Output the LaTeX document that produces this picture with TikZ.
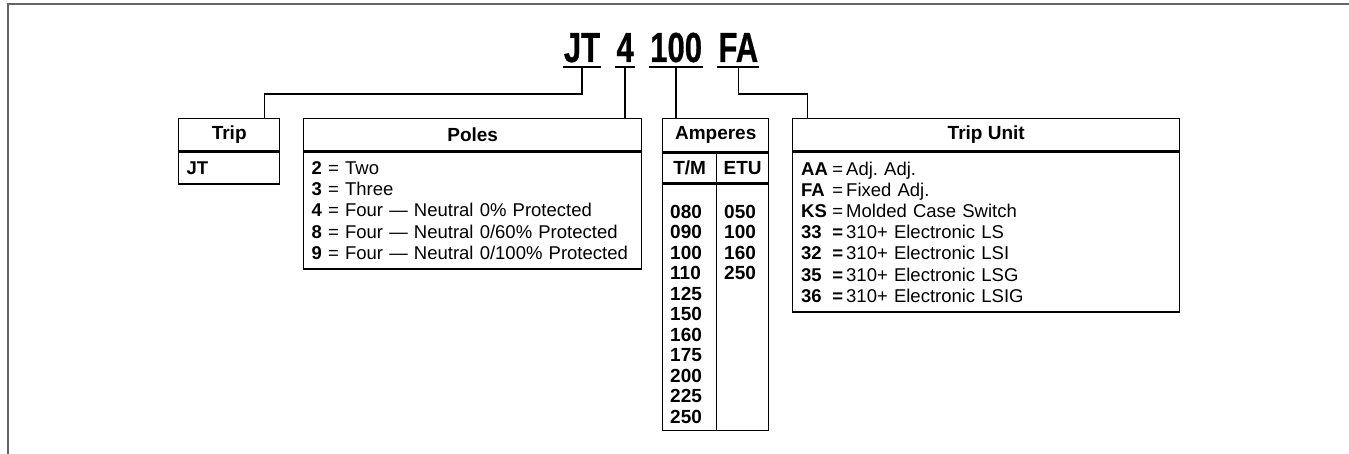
\documentclass[tikz,border=0pt]{standalone}
\usepackage{fontspec}
\setmainfont{Liberation Sans}
\newfontfamily\condfont[FakeStretch=0.74,FakeBold=0.6]{Liberation Sans}
\usetikzlibrary{positioning}
\frenchspacing
\newcommand{\tucode}[3]{\makebox[45pt][l]{\textbf{#1}\hfill#2\hspace{3pt}}#3}
\tikzset{
  code/.style={font=\condfont\bfseries\fontsize{42}{44}\selectfont, inner xsep=1pt, inner ysep=5pt, text depth=0pt},
  uline/.style={line width=2.5pt},
  link/.style={line width=1.4pt},
  hdr/.style={draw, line width=1.4pt, inner sep=0pt, minimum height=32pt, font=\bfseries\fontsize{19}{21}\selectfont},
  body/.style={draw, line width=1.4pt, inner xsep=8pt, inner ysep=0pt, align=left, font=\fontsize{18.5}{21.2}\selectfont},
  col/.style={draw, line width=1.4pt, inner sep=0pt},
  nums/.style={inner sep=0pt, align=left, font=\bfseries\fontsize{19}{20.5}\selectfont}
}
\begin{document}
\begin{tikzpicture}[x=1pt,y=-1pt]
\useasboundingbox (0,0) rectangle (1349,454);
\draw[color=black!60, line width=2.5pt] (1349,4) -- (8,4) -- (8,454);

\node[code, anchor=base] (jt) at (582,62) {JT};
\node[code, base right=14pt of jt] (pol) {4};
\node[code, base right=14pt of pol] (amp) {100};
\node[code, base right=14pt of amp] (fa) {FA};
\foreach \n in {jt,pol,amp,fa}
  \draw[uline] (\n.south west) -- (\n.south east);

\node[hdr, minimum width=101pt, anchor=north west] (trip) at (178,118) {Trip};
\node[body, text width=85pt, minimum height=32pt, below=0pt of trip] (tripb) {\textbf{JT}};

\node[hdr, minimum width=338pt, anchor=north west] (poles) at (303,118) {Poles};
\node[body, text width=322pt, minimum height=117pt, below=0pt of poles] (polesb) {%
  \textbf{2} = Two\\
  \textbf{3} = Three\\
  \textbf{4} = Four — Neutral 0\% Protected\\
  \textbf{8} = Four — Neutral 0/60\% Protected\\
  \textbf{9} = Four — Neutral 0/100\% Protected};

\node[hdr, minimum width=106pt, minimum height=33pt, anchor=north west] (amps) at (662,118) {Amperes};
\node[hdr, minimum width=54pt, minimum height=30pt, anchor=north west] (tm) at (amps.south west) {T/M};
\node[hdr, minimum width=52pt, minimum height=30pt, anchor=north east] (etu) at (amps.south east) {ETU};
\node[col, minimum width=54pt, minimum height=246pt, below=0pt of tm] (tmb) {};
\node[col, minimum width=52pt, minimum height=246pt, below=0pt of etu] (etub) {};
\node[nums, anchor=north west] (tmlist) at ([shift={(8pt,-21pt)}]tmb.north west)
  {080\\090\\100\\110\\125\\150\\160\\175\\200\\225\\250};
\node[nums, anchor=north west] (etulist) at ([shift={(8pt,-21pt)}]etub.north west)
  {050\\100\\160\\250};

\node[hdr, minimum width=387pt, anchor=north west] (unit) at (792,118) {Trip Unit};
\node[body, text width=370pt, inner xsep=8.5pt, minimum height=160pt, below=0pt of unit] (unitb) {%
  \tucode{AA}{=}{Adj. Adj.}\\
  \tucode{FA}{=}{Fixed Adj.}\\
  \tucode{KS}{=}{Molded Case Switch}\\
  \tucode{33}{\textbf{=}}{310+ Electronic LS}\\
  \tucode{32}{\textbf{=}}{310+ Electronic LSI}\\
  \tucode{35}{\textbf{=}}{310+ Electronic LSG}\\
  \tucode{36}{\textbf{=}}{310+ Electronic LSIG}};

\draw[link] (jt.south) -- ++(0,27) -| ([xshift=35pt]trip.north);
\draw[link] (pol.south) -- (pol.south |- poles.north);
\draw[link] (amp.south) -- (amp.south |- amps.north);
\draw[link] (fa.south) -- ++(0,27) -| ([xshift=-178.5pt]unit.north);
\end{tikzpicture}
\end{document}
